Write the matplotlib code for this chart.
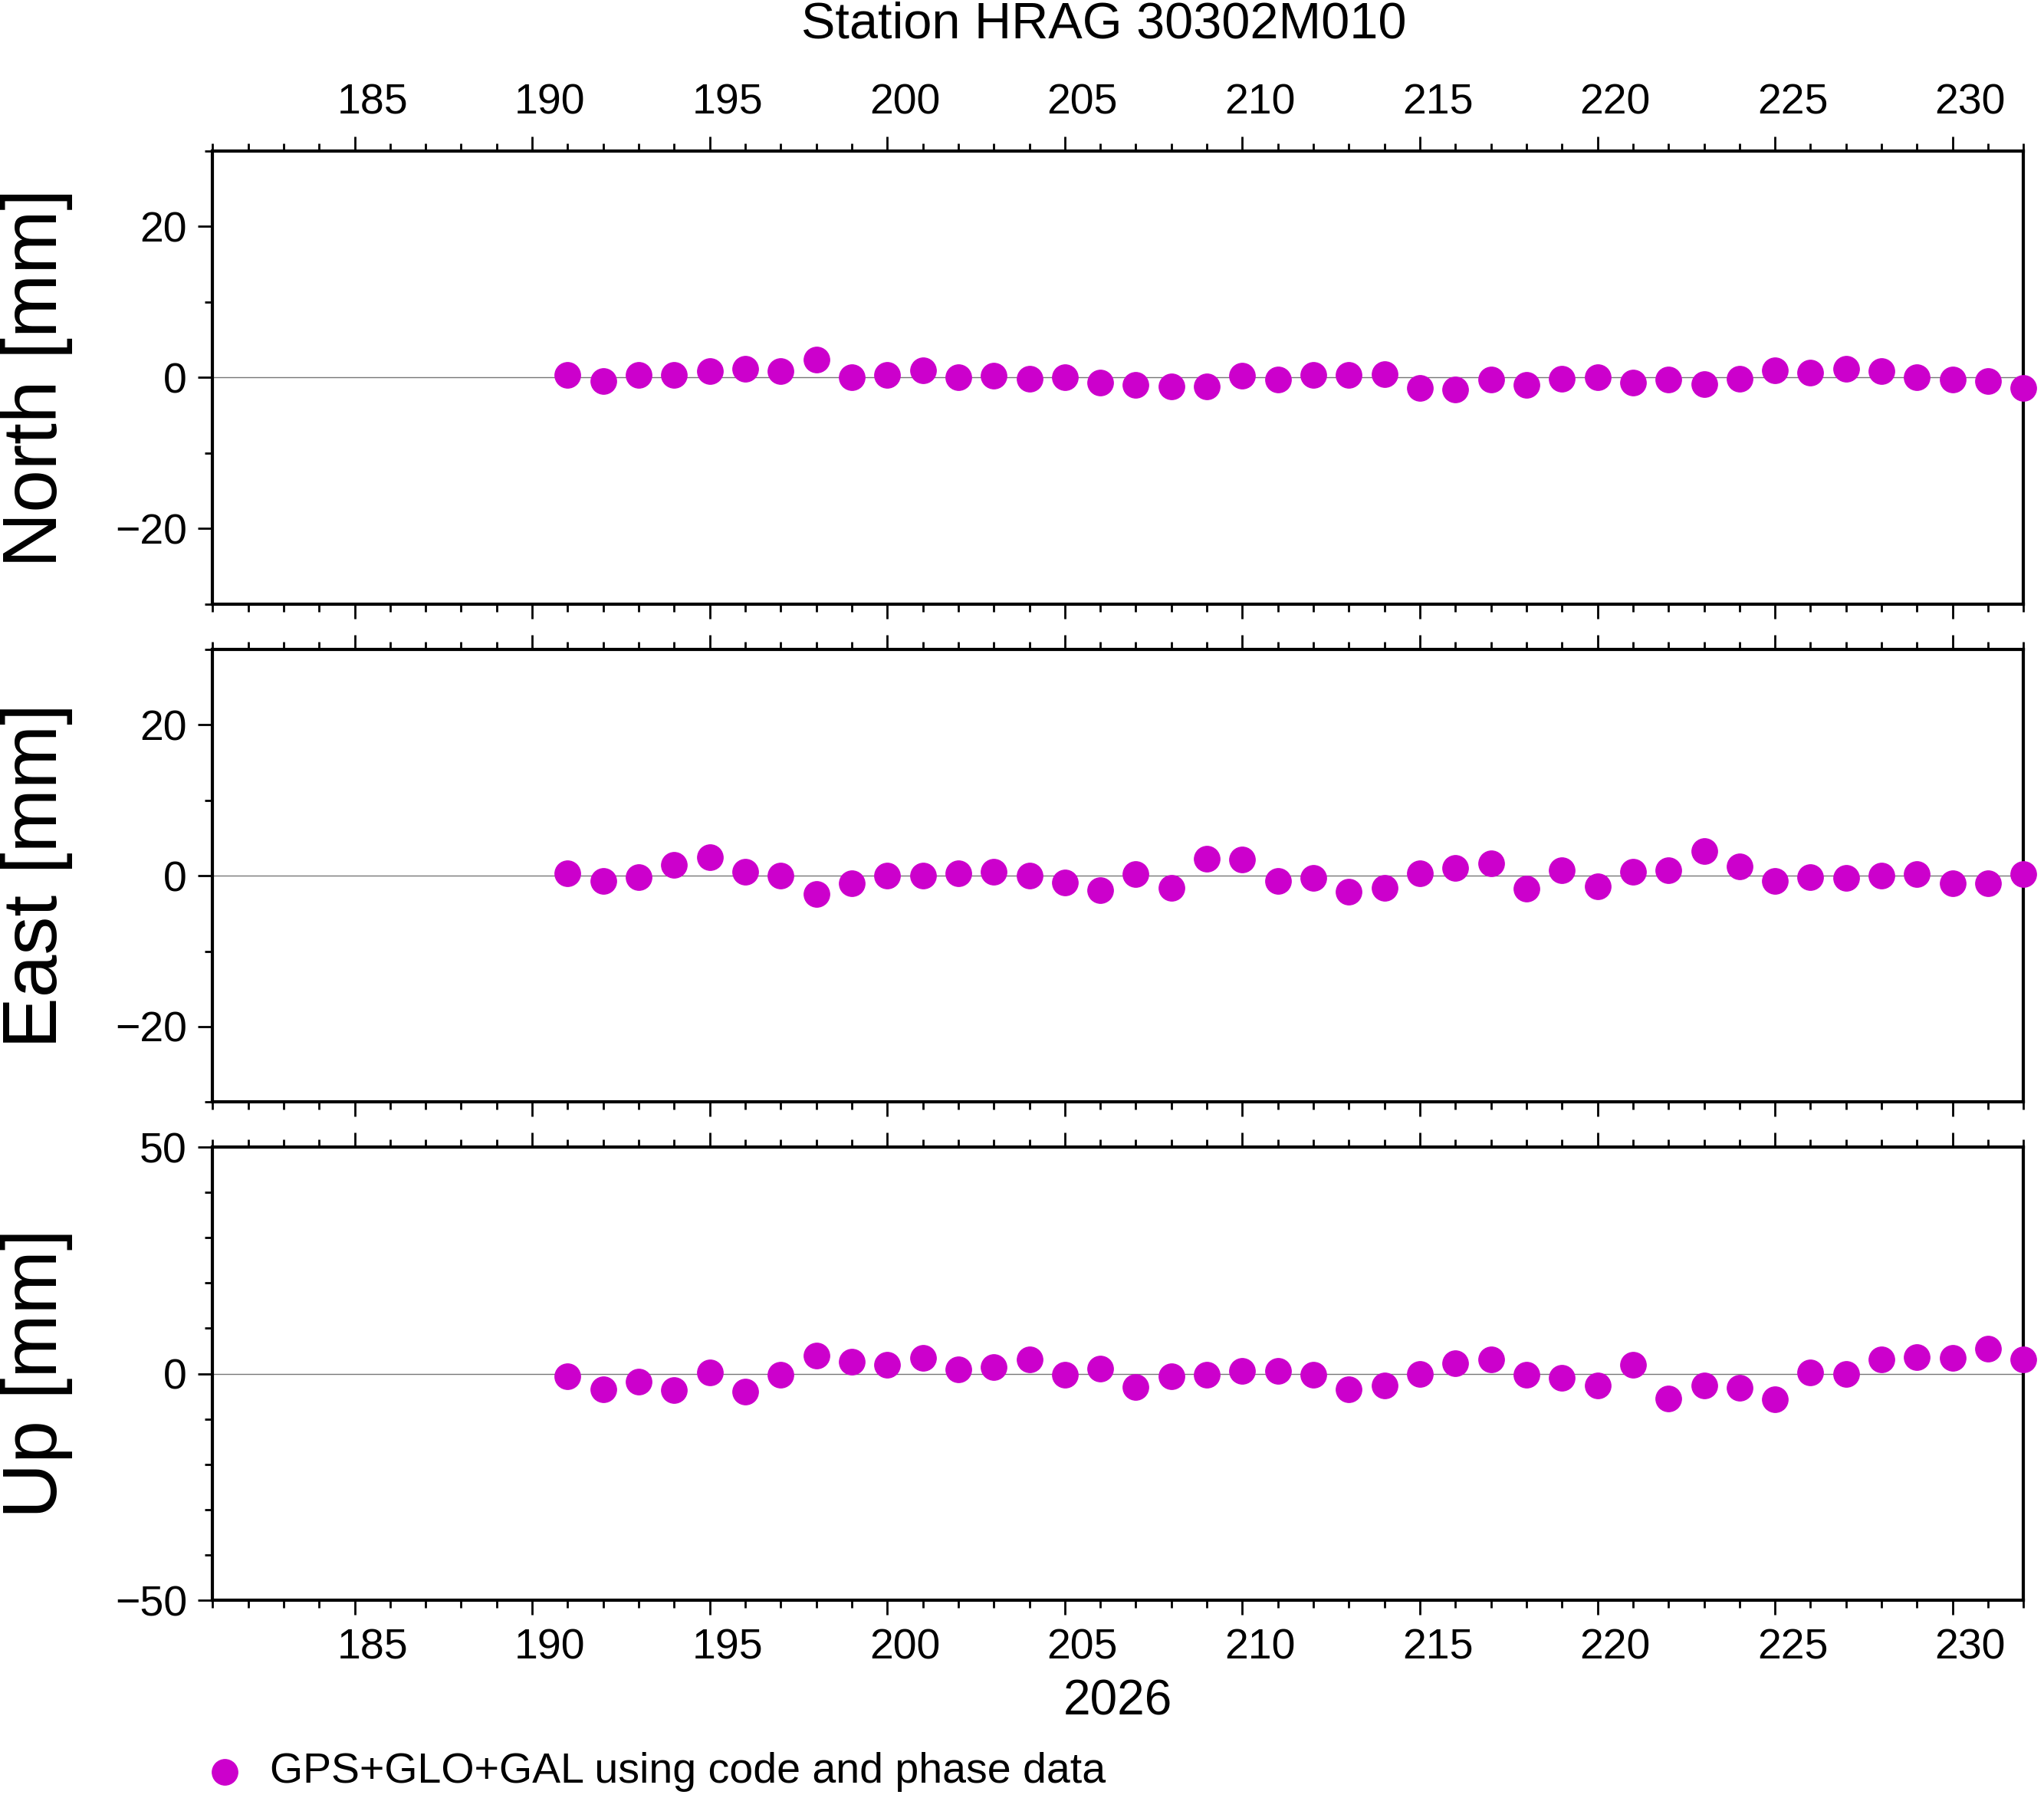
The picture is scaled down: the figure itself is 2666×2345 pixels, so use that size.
import numpy as np
import matplotlib
matplotlib.use("Agg")
import matplotlib.pyplot as plt
from matplotlib.ticker import MultipleLocator, FixedLocator, NullFormatter

plt.rcParams['font.family'] = ['Liberation Sans', 'DejaVu Sans']

days = list(range(191, 233))
north = [0.3, -0.5, 0.3, 0.3, 0.9, 1.2, 0.9, 2.4, 0.0, 0.3,
         1.0, 0.0, 0.2, -0.2, 0.0, -0.7, -1.0, -1.2, -1.2, 0.2,
         -0.3, 0.3, 0.3, 0.5, -1.4, -1.6, -0.3, -1.0, -0.2, 0.0,
         -0.7, -0.3, -0.9, -0.2, 1.0, 0.7, 1.2, 0.9, 0.0, -0.3,
         -0.5, -1.4]
east = [0.3, -0.7, -0.2, 1.4, 2.4, 0.5, 0.0, -2.4, -1.0, 0.0,
        0.0, 0.3, 0.5, 0.0, -0.9, -1.9, 0.2, -1.6, 2.2, 2.1,
        -0.7, -0.3, -2.1, -1.6, 0.3, 1.0, 1.6, -1.7, 0.7, -1.4,
        0.5, 0.7, 3.3, 1.2, -0.7, -0.2, -0.3, 0.0, 0.2, -1.0,
        -1.0, 0.2]
up = [-0.6, -3.4, -1.7, -3.7, 0.3, -4.0, -0.3, 4.0, 2.6, 2.0,
      3.4, 0.9, 1.4, 3.2, -0.3, 1.1, -2.9, -0.6, -0.3, 0.6,
      0.6, -0.3, -3.4, -2.6, 0.0, 2.3, 3.2, -0.3, -0.9, -2.6,
      2.0, -5.5, -2.6, -3.2, -5.7, 0.3, 0.0, 3.2, 3.7, 3.4,
      5.5, 3.2]
labels = ["North [mm]", "East [mm]", "Up [mm]"]
series = [north, east, up]
ylims = [(-30, 30), (-30, 30), (-50, 50)]
ymaj = [20, 20, 50]
ymin = [10, 10, 10]
col = "#CC00CC"

fig = plt.figure(figsize=(26.66, 23.45), dpi=100)
bottoms = [0.664, 0.387, 0.110]
major_x = list(range(185, 232, 5))
for i, (vals, lab) in enumerate(zip(series, labels)):
    ax = fig.add_axes([0.104, bottoms[i], 0.886, 0.252])
    ax.axhline(0, color="#777777", lw=1.0, zorder=1)
    ax.plot(days, vals, "o", color=col, ms=24, zorder=3, clip_on=False)
    ax.set_xlim(181, 232)
    ax.set_ylim(*ylims[i])
    ax.yaxis.set_major_locator(MultipleLocator(ymaj[i]))
    ax.yaxis.set_minor_locator(MultipleLocator(ymin[i]))
    ax.xaxis.set_major_locator(FixedLocator(major_x))
    ax.xaxis.set_minor_locator(MultipleLocator(1))
    ax.xaxis.set_major_formatter(NullFormatter())
    for s in ax.spines.values():
        s.set_linewidth(3)
    ax.tick_params(axis="both", which="major", direction="out", length=14, width=2,
                   labelsize=40, top=True, bottom=True, right=False, pad=10)
    ax.tick_params(axis="both", which="minor", direction="out", length=7, width=2,
                   top=True, bottom=True, right=False)
    ax.set_ylabel(lab, fontsize=72)
    ax.yaxis.set_label_coords(-0.077, 0.5)
    if i in (0, 2):
        sec = ax.secondary_xaxis("top" if i == 0 else "bottom")
        sec.set_xticks([d + 0.5 for d in major_x])
        sec.set_xticklabels([str(d) for d in major_x])
        sec.tick_params(length=0, labelsize=40, pad=26)
        sec.spines[("top" if i == 0 else "bottom")].set_visible(False)
    if i == 2:
        ax.set_xlabel("2026", fontsize=46, labelpad=50)

fig.text(0.54, 0.986, "Station HRAG 30302M010", fontsize=48, ha="center", va="center")
fig.add_artist(matplotlib.lines.Line2D([0.110], [0.0145], marker="o", ms=24,
                                       color=col, transform=fig.transFigure))
fig.text(0.132, 0.0145, "GPS+GLO+GAL using code and phase data", fontsize=40,
         va="center")
fig.savefig("out.png", dpi=100)
